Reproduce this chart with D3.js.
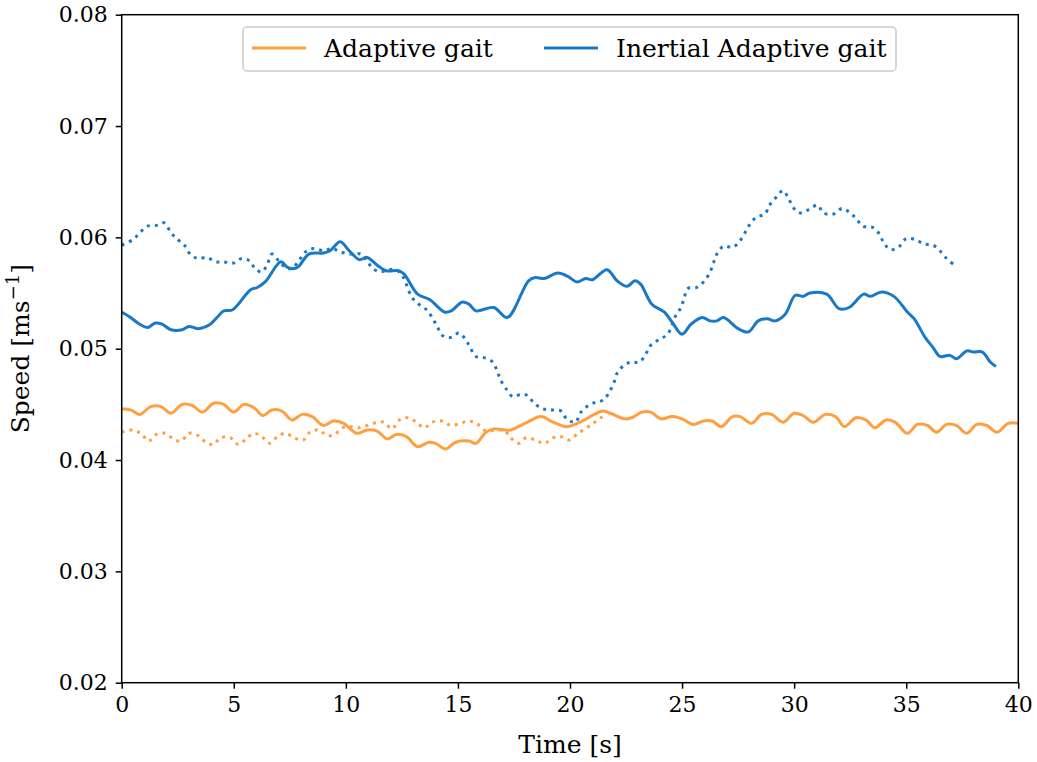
<!DOCTYPE html>
<html>
<head>
<meta charset="utf-8">
<script src="https://cdn.jsdelivr.net/npm/d3@7"></script>
<style>
  body { margin: 0; background: #fff; }
  svg { font-family: "DejaVu Serif", serif; }
  .axis path, .axis line { stroke: #000; stroke-width: 1.5; }
  .axis text { font-size: 22px; fill: #000; font-family: "DejaVu Serif", serif; }
</style>
</head>
<body>
<script>
// tick labels
var xTicks = [0, 5, 10, 15, 20, 25, 30, 35, 40];
var yTicks = [0.02, 0.03, 0.04, 0.05, 0.06, 0.07, 0.08];
var legendNames = ["Adaptive gait", "Inertial Adaptive gait"];

// [time s, speed m/s]
var adaptiveSolid = [[0,0.0446],[0.4,0.0445],[0.8,0.0441],[1.3,0.0448],[1.75,0.0448],[2.2,0.0442],[2.7,0.0450],[3.15,0.0449],[3.6,0.0443],[4.1,0.0451],[4.55,0.0450],[5.0,0.0443],[5.45,0.0450],[5.9,0.0447],[6.3,0.0440],[6.7,0.0445],[7.15,0.0444],[7.6,0.0436],[8.05,0.0441],[8.5,0.0439],[9.0,0.0431],[9.45,0.0435],[9.9,0.0433],[10.5,0.0424],[10.95,0.0427],[11.4,0.0426],[11.85,0.0419],[12.25,0.0423],[12.7,0.0421],[13.2,0.0412],[13.7,0.0416],[14.0,0.0415],[14.45,0.0410],[14.9,0.0416],[15.5,0.0417],[15.8,0.0415],[16.25,0.0425],[16.6,0.0428],[17.1,0.0427],[17.35,0.0427],[18.1,0.0434],[18.7,0.0439],[19.25,0.0434],[19.85,0.0430],[20.45,0.0434],[21.45,0.0444],[21.8,0.0442],[22.45,0.0437],[22.75,0.0438],[23.2,0.0443],[23.6,0.0443],[24.05,0.0437],[24.55,0.0439],[25.0,0.0437],[25.5,0.0432],[25.95,0.0435],[26.35,0.0435],[26.75,0.0430],[27.25,0.0439],[27.6,0.0439],[28.1,0.0433],[28.55,0.0441],[29.0,0.0441],[29.5,0.0434],[30.0,0.0442],[30.4,0.0440],[30.85,0.0434],[31.4,0.0441],[31.85,0.0439],[32.25,0.0430],[32.75,0.0438],[33.2,0.0436],[33.6,0.0429],[34.1,0.0436],[34.5,0.0434],[35.05,0.0424],[35.5,0.0432],[35.95,0.0431],[36.35,0.0425],[36.8,0.0432],[37.25,0.0431],[37.7,0.0424],[38.15,0.0432],[38.6,0.0431],[39.05,0.0425],[39.55,0.0433],[40,0.0433]];

var adaptiveDotted = [[0,0.0425],[0.5,0.0427],[0.9,0.0423],[1.2,0.0417],[1.55,0.0423],[1.95,0.0424],[2.3,0.0419],[2.65,0.0417],[3.0,0.0424],[3.4,0.0422],[3.75,0.0416],[4.1,0.0414],[4.4,0.0420],[4.85,0.0420],[5.2,0.0414],[5.55,0.0419],[5.9,0.0424],[6.25,0.0421],[6.6,0.0415],[6.95,0.0421],[7.3,0.0424],[7.7,0.0420],[8.1,0.0418],[8.4,0.0425],[8.8,0.0427],[9.15,0.0422],[9.5,0.0423],[9.85,0.0429],[10.2,0.0430],[10.6,0.0429],[11.25,0.0433],[11.7,0.0434],[12.05,0.0428],[12.4,0.0436],[12.8,0.0438],[13.15,0.0434],[13.5,0.0429],[13.85,0.0434],[14.3,0.0435],[14.7,0.0431],[15.1,0.0433],[15.5,0.0435],[15.9,0.0432],[16.25,0.0426],[16.7,0.0427],[17.1,0.0426],[17.35,0.0420],[17.7,0.0415],[18.05,0.0420],[18.45,0.0418],[18.85,0.0415],[19.25,0.0420],[19.6,0.0421],[20.0,0.0418],[20.35,0.0424],[20.75,0.0429],[21.1,0.0434],[21.45,0.0439]];

var inertialSolid = [[0,0.0533],[0.4,0.0528],[0.8,0.0522],[1.15,0.0519],[1.5,0.0523],[1.8,0.0522],[2.2,0.0517],[2.7,0.0517],[3.0,0.0520],[3.4,0.0518],[3.95,0.0522],[4.25,0.0528],[4.55,0.0534],[4.95,0.0535],[5.75,0.0553],[6.05,0.0555],[6.4,0.0560],[7.1,0.0578],[7.4,0.0573],[7.7,0.0572],[7.9,0.0574],[8.35,0.0585],[9.0,0.0586],[9.3,0.0588],[9.75,0.0596],[10.15,0.0588],[10.6,0.0580],[10.95,0.0582],[11.4,0.0575],[11.8,0.0570],[12.35,0.0570],[12.6,0.0567],[13.2,0.0549],[13.75,0.0544],[14.4,0.0533],[14.7,0.0534],[15.2,0.0542],[15.5,0.0540],[15.8,0.0534],[16.6,0.0537],[17.2,0.0528],[18.15,0.0561],[18.45,0.0564],[18.85,0.0563],[19.45,0.0568],[19.9,0.0565],[20.3,0.0560],[20.7,0.0563],[21.0,0.0562],[21.65,0.0571],[22.1,0.0561],[22.55,0.0556],[22.9,0.0561],[23.15,0.0558],[23.65,0.0540],[24.2,0.0533],[24.55,0.0524],[25.0,0.0513],[25.4,0.0522],[25.9,0.0528],[26.25,0.0525],[26.55,0.0525],[26.85,0.0528],[27.5,0.0518],[27.95,0.0515],[28.4,0.0525],[28.8,0.0527],[29.15,0.0525],[29.6,0.0531],[30.05,0.0548],[30.4,0.0547],[30.7,0.0550],[31.45,0.0549],[32.0,0.0536],[32.45,0.0537],[33.1,0.0549],[33.4,0.0547],[33.9,0.0551],[34.45,0.0547],[35.05,0.0533],[35.35,0.0527],[35.85,0.0510],[36.2,0.0501],[36.5,0.0493],[36.95,0.0494],[37.25,0.0491],[37.7,0.0498],[38.0,0.0497],[38.4,0.0497],[38.75,0.0488],[39.0,0.0484]];

var inertialDotted = [[0,0.0593],[0.5,0.0598],[0.8,0.0604],[1.15,0.0610],[1.6,0.0611],[1.9,0.0613],[2.2,0.0604],[2.5,0.0598],[2.8,0.0593],[3.05,0.0585],[3.4,0.0581],[3.8,0.0582],[4.2,0.0578],[4.55,0.0578],[5.0,0.0577],[5.35,0.0581],[5.7,0.0579],[5.95,0.0572],[6.25,0.0569],[6.5,0.0576],[6.7,0.0585],[7.0,0.0579],[7.3,0.0573],[7.6,0.0572],[7.9,0.0579],[8.2,0.0587],[8.55,0.0590],[9.0,0.0588],[9.4,0.0590],[9.75,0.0587],[10.2,0.0585],[10.65,0.0585],[10.95,0.0579],[11.2,0.0572],[11.55,0.0569],[11.9,0.0571],[12.3,0.0570],[12.6,0.0563],[12.75,0.0555],[12.95,0.0546],[13.25,0.0540],[13.6,0.0535],[13.85,0.0528],[14.1,0.0519],[14.3,0.0512],[14.65,0.0510],[15.05,0.0514],[15.35,0.0508],[15.55,0.0501],[15.8,0.0493],[16.15,0.0492],[16.55,0.0488],[16.75,0.0480],[16.9,0.0472],[17.15,0.0464],[17.45,0.0457],[17.8,0.0459],[18.1,0.0458],[18.4,0.0451],[18.8,0.0446],[19.2,0.0445],[19.6,0.0444],[19.85,0.0437],[20.25,0.0434],[20.45,0.0442],[20.75,0.0448],[21.15,0.0452],[21.5,0.0454],[21.75,0.0461],[21.95,0.0469],[22.1,0.0478],[22.35,0.0484],[22.7,0.0488],[23.1,0.0488],[23.4,0.0496],[23.6,0.0503],[23.95,0.0508],[24.35,0.0513],[24.7,0.0529],[24.95,0.0537],[25.1,0.0546],[25.25,0.0554],[25.65,0.0555],[26.0,0.0561],[26.25,0.0569],[26.4,0.0577],[26.55,0.0585],[26.85,0.0592],[27.25,0.0591],[27.55,0.0596],[27.8,0.0604],[28.0,0.0611],[28.3,0.0618],[28.7,0.0621],[28.9,0.0629],[29.2,0.0636],[29.5,0.0642],[29.75,0.0635],[29.95,0.0627],[30.25,0.0622],[30.65,0.0625],[31.05,0.0629],[31.3,0.0622],[31.75,0.0621],[32.15,0.0626],[32.5,0.0622],[32.8,0.0616],[33.05,0.0610],[33.5,0.0609],[33.8,0.0603],[34.0,0.0595],[34.3,0.0589],[34.7,0.0592],[35.0,0.0599],[35.4,0.0598],[35.8,0.0594],[36.2,0.0593],[36.5,0.0588],[36.8,0.0581],[37.1,0.0576]];

var orange = "#ff9f3f", blue = "#1a78c8";

var margin = {top: 14.7, right: 18.7, bottom: 79.3, left: 121.7},
    W = 1037, H = 762,
    w = W - margin.left - margin.right,
    h = H - margin.top - margin.bottom;

var svg = d3.select("body").append("svg")
    .attr("width", W)
    .attr("height", H);
var g = svg.append("g")
    .attr("transform", "translate(" + margin.left + "," + margin.top + ")");

var x = d3.scaleLinear().domain([0, 40]).range([0, w]);
var y = d3.scaleLinear().domain([0.02, 0.08]).range([h, 0]);

var line = d3.line()
    .x(function(d) { return x(d[0]); })
    .y(function(d) { return y(d[1]); })
    .curve(d3.curveCatmullRom.alpha(0.5));

var series = [
  {data: adaptiveDotted, color: orange, dash: "3,4.95"},
  {data: inertialDotted, color: blue, dash: "3,4.95"},
  {data: adaptiveSolid, color: orange, dash: null},
  {data: inertialSolid, color: blue, dash: null}
];

g.append("defs").append("clipPath").attr("id", "clip")
  .append("rect").attr("width", w).attr("height", h);

g.append("g").attr("clip-path", "url(#clip)")
  .selectAll("path")
  .data(series)
  .enter()
  .append("path")
    .attr("d", function(d) { return line(d.data); })
    .attr("fill", "none")
    .attr("stroke", function(d) { return d.color; })
    .attr("stroke-width", 3)
    .attr("stroke-dasharray", function(d) { return d.dash; })
    .attr("stroke-linejoin", "round");

// axes
var xAxis = d3.axisBottom(x).tickValues(xTicks).tickSize(6).tickPadding(8).tickFormat(d3.format("d"));
var yAxis = d3.axisLeft(y).tickValues(yTicks).tickSize(6).tickPadding(8).tickFormat(d3.format(".2f"));

g.append("g").attr("class", "axis")
  .attr("transform", "translate(0," + h + ")")
  .call(xAxis)
  .call(function(s) { s.select(".domain").remove(); });
g.append("g").attr("class", "axis")
  .call(yAxis)
  .call(function(s) { s.select(".domain").remove(); });

// frame
g.append("rect")
  .attr("width", w).attr("height", h)
  .attr("fill", "none").attr("stroke", "#000").attr("stroke-width", 1.5);

// axis labels
g.append("text")
  .attr("x", w / 2).attr("y", h + 70)
  .attr("text-anchor", "middle")
  .style("font-size", "25px")
  .text("Time [s]");

var yl = g.append("text")
  .attr("transform", "translate(" + (-margin.left + 29) + "," + (h / 2) + ") rotate(-90)")
  .attr("text-anchor", "middle")
  .style("font-size", "25px");
yl.append("tspan").text("Speed [ms");
yl.append("tspan").attr("dy", -10).style("font-size", "18px").text("\u22121");
yl.append("tspan").attr("dy", 10).text("]");

// legend
var leg = svg.append("g").attr("transform", "translate(243,27)");
leg.append("rect")
  .attr("width", 653).attr("height", 44)
  .attr("rx", 4).attr("ry", 4)
  .attr("fill", "#fff").attr("fill-opacity", 0.8)
  .attr("stroke", "#cccccc").attr("stroke-width", 1.5);

var legItems = [
  {name: legendNames[0], color: orange, x: 9},
  {name: legendNames[1], color: blue, x: 301}
];
var li = leg.selectAll(".li").data(legItems).enter().append("g")
  .attr("transform", function(d) { return "translate(" + d.x + ",0)"; });
li.append("line")
  .attr("x1", 0).attr("x2", 54).attr("y1", 21).attr("y2", 21)
  .attr("stroke", function(d) { return d.color; })
  .attr("stroke-width", 3);
li.append("text")
  .attr("x", 72).attr("y", 30)
  .style("font-size", "25px")
  .text(function(d) { return d.name; });
</script>
</body>
</html>
